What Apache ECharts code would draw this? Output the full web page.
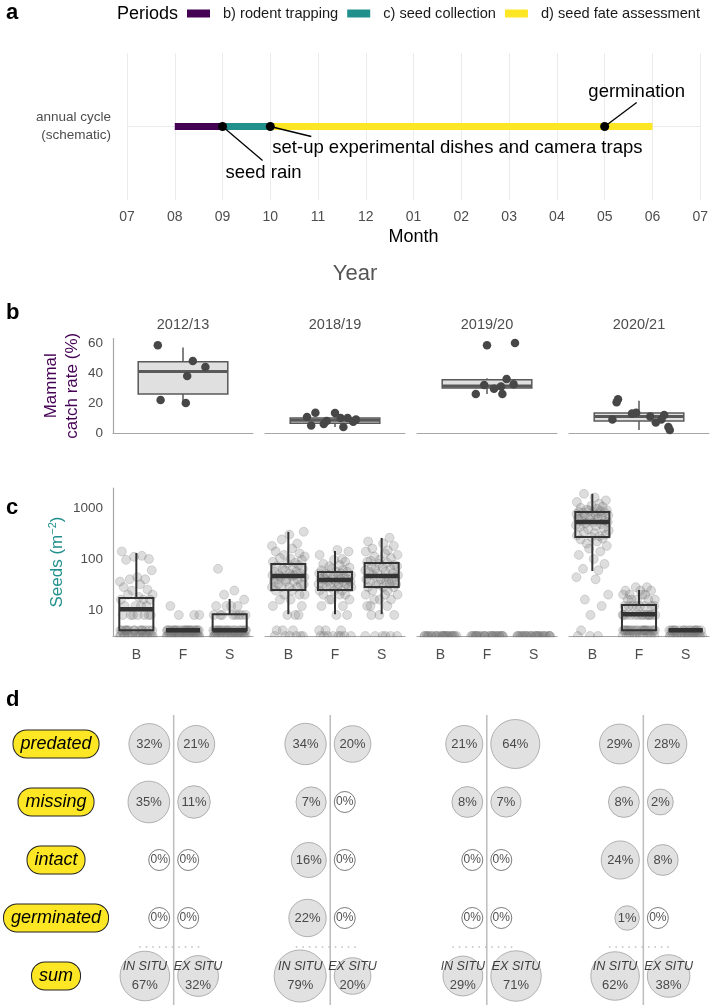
<!DOCTYPE html>
<html><head><meta charset="utf-8">
<script src="https://cdn.jsdelivr.net/npm/echarts@6/dist/echarts.min.js"></script>
<style>html,body{margin:0;padding:0;background:#fff}#c{width:711px;height:1006px}</style>
</head><body><div id="c"></div>
<script>
// ================= DATA =================
// Panel a: schematic annual cycle
const monthLabels = ['07','08','09','10','11','12','01','02','03','04','05','06','07'];
const periodNames = ['b) rodent trapping','c) seed collection','d) seed fate assessment'];
const periodStart = [1, 2, 3];
const periodEnd   = [2, 3, 11];
const eventNames  = ['seed rain','set-up experimental dishes and camera traps','germination'];
const eventMonth  = [2, 3, 10];
const cycleLabel  = 'annual cycle\n(schematic)';

// Panel b: mammal catch rate (%)
const years = ['2012/13','2018/19','2019/20','2020/21'];
// box stats: [lower whisker, Q1, median, Q3, upper whisker]
const catchBox2012 = [20, 26, 41, 47.5, 57];
const catchBox2018 = [4, 6.5, 8.5, 10, 14];
const catchBox2019 = [26, 30, 31.3, 35.5, 36.5];
const catchBox2020 = [2, 8, 11, 13.3, 21.5];
const catch2012 = [58.5, 48, 44, 38, 22, 20];
const catch2018 = [13.5, 13.3, 10.7, 10, 10, 9, 8, 7.5, 6, 5, 4];
const catch2019 = [60, 58.5, 36, 32.5, 32, 31, 29.5, 26, 26];
const catch2020 = [22.5, 20.5, 13.5, 13, 12, 11, 9, 9, 7, 4, 2];
const catchOutliers2019 = [58.5, 60];

// Panel c: seeds per m2 (0 = no seeds, drawn at panel bottom)
const seedCats = ['B','F','S'];
const seeds2012B = [140,115,110,100,96,60,44,40,40,36,32,28,25,24,20,20,18,16,16,16,12,12,12,12,8,8,8,8,8,8,8,4,4,4,4,4,4,4,4,4,4,4,4,4,4,0,0,0,0,0,0,0,0,0,0,0,0,0,0,0,0,0,0];
const seeds2012F = [12,8,8,8,4,4,4,4,4,4,4,4,4,4,4,4,4,4,4,4,4,4,4,4,4,4,0,0,0,0,0,0,0,0,0,0,0,0,0,0,0,0,0,0,0,0,0,0,0,0,0,0,0,0,0,0];
const seeds2012S = [64,24,20,16,12,12,12,12,8,8,8,8,8,8,8,8,4,4,4,4,4,4,4,4,4,4,4,4,4,4,4,4,4,4,0,0,0,0,0,0,0,0,0,0,0,0,0,0,0,0,0,0,0,0,0,0,0,0,0];
const seeds2018B = [340,300,240,200,180,160,140,128,120,112,104,100,96,88,84,80,76,72,68,64,64,60,56,56,52,52,48,48,48,46,44,44,40,40,40,36,36,36,32,32,32,28,28,28,28,24,24,20,20,20,16,16,12,12,8,8,8,4,4,4,0,0,0,0,0,0];
const seeds2018F = [150,140,120,100,96,88,80,76,72,68,64,60,60,56,56,52,52,52,48,48,48,44,44,44,40,40,40,40,40,36,36,36,36,32,32,32,32,28,28,28,28,28,24,24,24,20,20,20,16,16,16,12,12,8,8,4,4,4,0,0,0,0,0,0,0,0];
const seeds2018S = [260,220,200,180,160,148,140,128,120,112,104,96,92,88,84,80,76,72,72,68,64,64,60,56,56,52,52,48,48,44,44,40,40,40,36,36,36,32,32,32,32,28,28,28,24,24,20,20,20,16,16,16,12,12,12,8,8,8,0,0,0,0,0,0];
const seeds2019B = [0,0,0,0,0,0,0,0,0,0,0,0,0,0,0,0,0,0,0,0,0,0,0,0,0];
const seeds2019F = [0,0,0,0,0,0,0,0,0,0,0,0,0,0,0,0,0,0,0,0,0,0,0,0,0];
const seeds2019S = [0,0,0,0,0,0,0,0,0,0,0,0,0,0,0,0,0,0,0,0,0,0,0,0,0];
const seeds2020B = [1880,1600,1400,1300,1200,1100,1050,1000,960,920,900,880,860,840,830,820,800,780,760,740,720,700,680,660,640,620,600,580,560,540,530,520,500,480,460,440,420,400,380,360,340,320,300,290,280,270,250,240,220,200,180,160,140,120,100,80,64,60,44,40,20,16,12,8,4,0,0,0];
const seeds2020F = [28,28,24,24,24,20,20,20,20,16,16,16,16,16,12,12,12,12,12,12,12,12,8,8,8,8,8,8,8,8,8,8,8,8,8,8,4,4,4,4,4,4,4,4,4,4,4,4,4,4,4,4,4,4,4,4,0,0,0,0,0,0,0,0,0,0,0,0];
const seeds2020S = [4,4,4,4,4,4,4,4,4,4,4,4,4,4,4,4,0,0,0,0,0,0,0,0,0,0,0,0,0,0,0,0,0,0,0,0,0,0];
const seedBox2012 = [[4,4,10.4,17.2,131],[4,4,4,4,4],[4,4,4,8.3,16.4]];
const seedBox2018 = [[8.3,24.7,46.4,80,339],[8.3,24.7,38.8,55.6,143],[8.3,28.3,46.4,83.5,258]];
const seedBox2019 = [];
const seedBox2020 = [[58,270,531,832,1884],[4,4,8.3,12.6,24.7],[4,4,4,4,4]];

// Panel d: seed fate (%)
const fateRows = ['predated','missing','intact','germinated','sum'];
const fateCols = [0, 1, 2, 3];
const predatedIn = [32,34,21,29],  predatedEx = [21,20,64,28];
const missingIn  = [35,7,8,8],     missingEx  = [11,0,7,2];
const intactIn   = [0,16,0,24],    intactEx   = [0,0,0,8];
const germinatedIn = [0,22,0,1],   germinatedEx = [0,0,0,0];
const sumIn = [67,79,29,62],       sumEx = [32,20,71,38];

// ================= LAYOUT / STYLE =================
const FONT = "'Liberation Sans', Arial, sans-serif";
const TXT = '#4D4D4D';
const periodColors = ['#440154','#21908C','#FDE725'];
const annoLayout = [
  {lx: 40, ly: 34, tx: 41, ty: 46, align: 'center'},
  {lx: 41, ly: 10, tx: 2, ty: 21, align: 'left'},
  {lx: 32, ly: -24, tx: 32, ty: -35, align: 'center'}
];
const catchJitter = [
  [-0.18, 0.07, 0.16, 0.03, -0.16, 0.02],
  [-0.14, 0, -0.2, 0.04, 0.09, 0.15, -0.06, 0.13, -0.08, -0.17, 0.06],
  [0.2, 0, 0.14, 0.19, -0.02, 0.1, 0.05, -0.08, 0.11],
  [-0.15, -0.16, -0.02, -0.05, 0.18, 0.08, -0.19, 0.16, 0.12, 0.21, 0.22]
];
const jit = [-0.31,0.12,-0.05,0.27,-0.22,0.33,0.02,-0.14,0.19,-0.35,0.08,-0.27,0.24,-0.09,0.35,-0.18,0.05,0.29,-0.33,0.15,-0.02,0.22,-0.25,0.1,-0.12,0.31,-0.07,0.17,-0.29,0.03,0.26,-0.2,0.13,-0.34,0.07,0.34,-0.16,0.2,-0.04,-0.24];
const C_MIN = 3.1, C_MAX = 2450;
const facetLeft = i => 113 + 152 * i;
const D_UNIT = 157.67, D_PAD = 0.3;   // px per column of panel d, padding in column units

const catchBoxes = [catchBox2012, catchBox2018, catchBox2019, catchBox2020];
const catchVals = [catch2012, catch2018, catch2019, catch2020];
const seedSets = [[seeds2012B,seeds2012F,seeds2012S],[seeds2018B,seeds2018F,seeds2018S],[seeds2019B,seeds2019F,seeds2019S],[seeds2020B,seeds2020F,seeds2020S]];
const seedBoxes = [seedBox2012, seedBox2018, seedBox2019, seedBox2020];
const fateIn = [predatedIn, missingIn, intactIn, germinatedIn, sumIn];
const fateEx = [predatedEx, missingEx, intactEx, germinatedEx, sumEx];

function boxRenderer(widthUnits, fill, stroke, lw, medLw) {
  return function (params, api) {
    const x = api.value(0);
    const v = [1,2,3,4,5].map(k => api.value(k));
    const p = v.map(val => api.coord([x, val]));
    const w = api.size([widthUnits, 0], [x, 10])[0];
    const cx = p[0][0], hw = w / 2;
    return {type: 'group', children: [
      {type: 'line', shape: {x1: cx, y1: p[0][1], x2: cx, y2: p[1][1]}, style: {stroke, lineWidth: lw}},
      {type: 'line', shape: {x1: cx, y1: p[3][1], x2: cx, y2: p[4][1]}, style: {stroke, lineWidth: lw}},
      {type: 'rect', shape: {x: cx - hw, y: p[3][1], width: 2 * hw, height: p[1][1] - p[3][1]}, style: {fill, stroke, lineWidth: lw}},
      {type: 'line', shape: {x1: cx - hw, y1: p[2][1], x2: cx + hw, y2: p[2][1]}, style: {stroke, lineWidth: medLw}}
    ]};
  };
}

// ================= OPTION =================
const grid = [{left: 127, top: 53, width: 576, height: 147}];
for (let i = 0; i < 4; i++) grid.push({left: facetLeft(i), top: 338.5, width: 140, height: 94.5});
for (let i = 0; i < 4; i++) grid.push({left: facetLeft(i), top: 488, width: 140, height: 148});
grid.push({left: 170 - D_PAD * D_UNIT, top: 715, width: (3 + 2 * D_PAD) * D_UNIT, height: 290});

const xAxis = [{
  gridIndex: 0, type: 'value', min: 0, max: 12, interval: 1,
  axisLine: {show: false}, axisTick: {show: false},
  axisLabel: {formatter: v => monthLabels[v], color: TXT, fontSize: 14, margin: 10},
  splitLine: {show: true, lineStyle: {color: '#EBEBEB', width: 1}},
  name: 'Month', nameLocation: 'middle', nameGap: 28, nameTextStyle: {color: '#000', fontSize: 18}
}];
for (let i = 0; i < 4; i++) xAxis.push({
  gridIndex: 1 + i, type: 'value', min: -0.5, max: 0.5,
  axisLine: {show: true, onZero: false, lineStyle: {color: '#A6A6A6', width: 1.2}},
  axisTick: {show: false}, axisLabel: {show: false}, splitLine: {show: false}
});
for (let i = 0; i < 4; i++) xAxis.push({
  gridIndex: 1 + i, type: 'value', min: -0.5, max: 0.5, position: 'top',
  axisLine: {show: false}, axisTick: {show: false}, splitLine: {show: false},
  axisLabel: {customValues: [0], formatter: () => years[i], color: TXT, fontSize: 14.5, margin: 6}
});
for (let i = 0; i < 4; i++) xAxis.push({
  gridIndex: 5 + i, type: 'value', min: -0.5, max: 2.5,
  axisLine: {show: true, onZero: false, lineStyle: {color: '#A6A6A6', width: 1.2}},
  axisTick: {show: false}, splitLine: {show: false},
  axisLabel: {customValues: [0, 1, 2], formatter: v => seedCats[v], color: TXT, fontSize: 14, margin: 12}
});
xAxis.push({
  gridIndex: 9, type: 'value', min: -D_PAD, max: 3 + D_PAD,
  axisLine: {show: false}, axisTick: {show: false}, axisLabel: {show: false}, splitLine: {show: false}
});

const yAxis = [{
  gridIndex: 0, type: 'value', min: -1, max: 1, interval: 1,
  axisLine: {show: false}, axisTick: {show: false},
  axisLabel: {customValues: [0], formatter: () => cycleLabel, color: TXT, fontSize: 13.5, lineHeight: 18, margin: 16, align: 'right'},
  splitLine: {show: true, showMinLine: false, showMaxLine: false, lineStyle: {color: '#EBEBEB', width: 1}}
}];
for (let i = 0; i < 4; i++) yAxis.push({
  gridIndex: 1 + i, type: 'value', min: 0, max: 63, interval: 20,
  axisLine: {show: i === 0, onZero: false, lineStyle: {color: '#A6A6A6', width: 1.2}},
  axisTick: {show: false}, splitLine: {show: false},
  axisLabel: {show: i === 0, color: TXT, fontSize: 13.5, margin: 10, showMaxLabel: false},
  name: i === 0 ? 'Mammal\ncatch rate (%)' : '', nameLocation: 'middle', nameRotate: 90, nameGap: 30,
  nameTextStyle: {color: '#440154', fontSize: 17, lineHeight: 21}
});
for (let i = 0; i < 4; i++) yAxis.push({
  gridIndex: 5 + i, type: 'log', logBase: 10, min: C_MIN, max: C_MAX,
  axisLine: {show: i === 0, onZero: false, lineStyle: {color: '#A6A6A6', width: 1.2}},
  axisTick: {show: false}, splitLine: {show: false},
  axisLabel: {show: i === 0, color: TXT, fontSize: 13.5, margin: 10, showMinLabel: false, showMaxLabel: false,
    formatter: v => String(Math.round(v))},
  name: i === 0 ? '{a|Seeds (m}{s|−2}{a|)}' : '', nameLocation: 'middle', nameRotate: 90, nameGap: 46,
  nameTextStyle: {rich: {a: {color: '#21908C', fontSize: 17}, s: {color: '#21908C', fontSize: 11, padding: [0, 0, 9, 0]}}}
});
yAxis.push({
  gridIndex: 9, type: 'value', min: -0.5, max: 4.5, inverse: true,
  axisLine: {show: false}, axisTick: {show: false}, splitLine: {show: false},
  axisLabel: {customValues: [0, 1, 2, 3, 4], formatter: v => fateRows[v], align: 'center', margin: 170 - D_PAD * D_UNIT - 52,
    fontStyle: 'italic', fontSize: 18, color: '#000', backgroundColor: '#FDE725', borderColor: '#222',
    borderWidth: 1, borderRadius: 13, padding: [5, 7, 4, 7]}
});

const series = [];
// panel a
periodNames.forEach((n, i) => series.push({
  type: 'line', name: n, xAxisIndex: 0, yAxisIndex: 0, data: [[periodStart[i], 0], [periodEnd[i], 0]],
  symbol: 'none', lineStyle: {width: 7, color: periodColors[i], cap: 'butt'}, itemStyle: {color: periodColors[i]}, z: 3, silent: true
}));
series.push({
  type: 'custom', xAxisIndex: 0, yAxisIndex: 0, z: 5, silent: true,
  data: eventMonth.map((m, i) => [m, 0, i]),
  renderItem: (params, api) => {
    const i = api.value(2);
    const p = api.coord([api.value(0), api.value(1)]);
    const L = annoLayout[i];
    return {type: 'group', children: [
      {type: 'line', shape: {x1: p[0], y1: p[1], x2: p[0] + L.lx, y2: p[1] + L.ly}, style: {stroke: '#000', lineWidth: 1.3}},
      {type: 'circle', shape: {cx: p[0], cy: p[1], r: 4.5}, style: {fill: '#000'}},
      {type: 'text', x: p[0] + L.tx, y: p[1] + L.ty, style: {text: eventNames[i], fill: '#000', font: '18.5px ' + FONT, align: L.align, verticalAlign: 'middle'}}
    ]};
  }
});
// panel b
for (let i = 0; i < 4; i++) {
  series.push({type: 'custom', xAxisIndex: 1 + i, yAxisIndex: 1 + i, z: 2, silent: true,
    data: [[0].concat(catchBoxes[i])], renderItem: boxRenderer(0.64, '#E0E0E0', '#595959', 1.5, 3)});
  if (i === 2) series.push({type: 'scatter', xAxisIndex: 1 + i, yAxisIndex: 1 + i, z: 3, silent: true,
    data: catchOutliers2019.map(v => [0, v]), symbol: 'emptyCircle', symbolSize: 7,
    itemStyle: {color: '#fff', borderColor: '#333', borderWidth: 1}});
  series.push({type: 'scatter', xAxisIndex: 1 + i, yAxisIndex: 1 + i, z: 4, silent: true,
    data: catchVals[i].map((v, k) => [catchJitter[i][k], v]), symbolSize: 8.5,
    itemStyle: {color: '#474747', opacity: 1}});
}
// panel c
for (let i = 0; i < 4; i++) {
  const pts = [];
  seedSets[i].forEach((arr, c) => arr.forEach((v, k) => pts.push([c + jit[(k + c * 11 + i * 5) % jit.length], v > 0 ? v : C_MIN])));
  series.push({type: 'scatter', xAxisIndex: 9 + i, yAxisIndex: 5 + i, z: 2, silent: true, data: pts, symbolSize: 9,
    itemStyle: {color: 'rgba(125,125,125,0.33)', borderColor: 'rgba(90,90,90,0.3)', borderWidth: 0.8}});
  series.push({type: 'custom', xAxisIndex: 9 + i, yAxisIndex: 5 + i, z: 3, silent: true,
    data: seedBoxes[i].map((s, c) => [c].concat(s)), renderItem: boxRenderer(0.73, 'none', '#333333', 2, 4.5)});
}
// panel d: column dividers
fateCols.forEach(c => series.push({type: 'line', xAxisIndex: 13, yAxisIndex: 9, silent: true, symbol: 'none', z: 1,
  data: [[c, -0.5], [c, 4.5]], lineStyle: {color: '#BDBDBD', width: 1.5}}));
// panel d: dotted separators above "sum"
fateCols.forEach(c => series.push({type: 'line', xAxisIndex: 13, yAxisIndex: 9, silent: true, symbol: 'none', z: 2,
  data: [[c - 0.22, 3.5], [c + 0.17, 3.5]], lineStyle: {type: [1.5, 5], color: '#BDBDBD', width: 1.5}}));
// panel d: bubbles
function bubbleItem(col, row, p, side) {
  const r = p > 0 ? 10.5 + 1.75 * Math.sqrt(p) : 10.5;
  return {value: [col, row, p], symbolSize: 2 * r, symbolOffset: [side * (r + 4), 0],
    itemStyle: p > 0 ? {color: '#D9D9D9', borderColor: '#8C8C8C', borderWidth: 0.8} : {color: '#fff', borderColor: '#333', borderWidth: 0.8},
    label: p > 0 ? {} : {fontSize: 12}};
}
[[fateIn, -1, 'IN SITU'], [fateEx, 1, 'EX SITU']].forEach(([tbl, side, tag]) => {
  const data = [];
  tbl.forEach((rowVals, r) => rowVals.forEach((p, c) => data.push(bubbleItem(fateCols[c], r, p, side))));
  series.push({type: 'scatter', xAxisIndex: 13, yAxisIndex: 9, z: 3, silent: true, data,
    label: {show: true, position: 'inside', color: '#222', fontSize: 13,
      formatter: prm => prm.value[1] === 4 ? '{i|' + tag + '}\n{n|' + prm.value[2] + '%}' : prm.value[2] + '%',
      rich: {i: {fontStyle: 'italic', fontSize: 12.5, color: '#111', lineHeight: 19}, n: {fontSize: 13, color: '#222', lineHeight: 19}}}
  });
});

const graphic = [
  {type: 'text', x: 6, y: 13, style: {text: 'a', font: 'bold 22px ' + FONT, fill: '#000', verticalAlign: 'middle'}},
  {type: 'text', x: 6, y: 313, style: {text: 'b', font: 'bold 22px ' + FONT, fill: '#000', verticalAlign: 'middle'}},
  {type: 'text', x: 6, y: 508, style: {text: 'c', font: 'bold 22px ' + FONT, fill: '#000', verticalAlign: 'middle'}},
  {type: 'text', x: 6, y: 700, style: {text: 'd', font: 'bold 22px ' + FONT, fill: '#000', verticalAlign: 'middle'}},
  {type: 'text', x: 117, y: 14, style: {text: 'Periods', font: '18px ' + FONT, fill: '#000', verticalAlign: 'middle'}},
  {type: 'text', x: 355, y: 274, style: {text: 'Year', font: '22px ' + FONT, fill: '#555', align: 'center', verticalAlign: 'middle'}},
  {type: 'rect', z: 100, shape: {x: 105, y: 637.2, width: 606, height: 7}, style: {fill: '#fff'}}
];

const chart = echarts.init(document.getElementById('c'), null, {renderer: 'canvas'});
chart.setOption({
  backgroundColor: '#fff', animation: false,
  textStyle: {fontFamily: FONT},
  legend: {data: periodNames, left: 187, top: 6, width: 524, padding: 0, icon: 'rect', itemWidth: 23, itemHeight: 8, itemGap: 9,
    selectedMode: false, textStyle: {fontSize: 14.6, color: '#1a1a1a', padding: [0, 0, 0, 8]}},
  graphic, grid, xAxis, yAxis, series
});
</script></body></html>
